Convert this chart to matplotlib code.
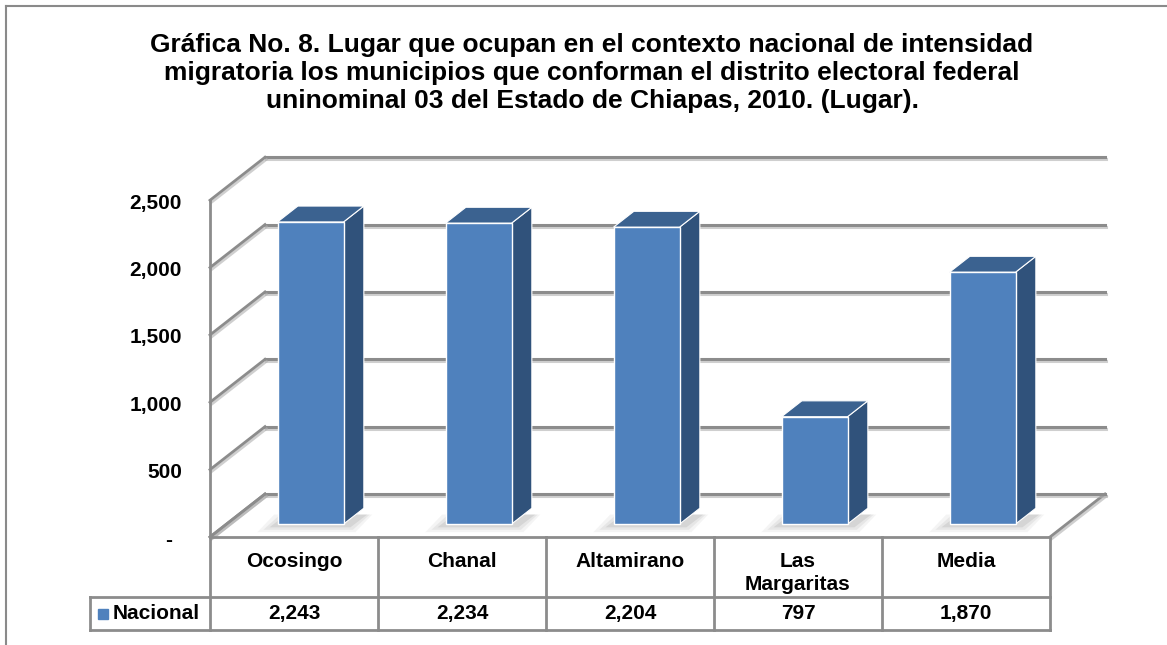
import matplotlib
matplotlib.use("Agg")
import matplotlib.pyplot as plt
from matplotlib.patches import Polygon
from matplotlib.transforms import ScaledTranslation
import matplotlib.patheffects as pe

plt.rcParams['font.family'] = ['Liberation Sans', 'DejaVu Sans']

# data
categories = ["Ocosingo", "Chanal", "Altamirano", "Las\nMargaritas", "Media"]
values = [2243, 2234, 2204, 797, 1870]
series_name = "Nacional"
yticks = [0, 500, 1000, 1500, 2000, 2500]
ytick_labels = ["-", "500", "1,000", "1,500", "2,000", "2,500"]
title = ("Gráfica No. 8. Lugar que ocupan en el contexto nacional de intensidad\n"
         "migratoria los municipios que conforman el distrito electoral federal\n"
         "uninominal 03 del Estado de Chiapas, 2010. (Lugar).")

W, H = 1167, 645
fig = plt.figure(figsize=(W / 100, H / 100), dpi=100)
fig.patch.set_facecolor('white')

BLUE = '#4F81BD'
SIDE = '#30527B'
TOP = '#3B6290'
GRID = '#8C8C8C'
FS = 15

# outer frame (only top and left edges visible)
fig.add_artist(plt.Line2D([6 / W, 6 / W], [0, 1 - 6 / H], color='#8a8a8a', lw=1.5))
fig.add_artist(plt.Line2D([6 / W, 1], [1 - 6 / H, 1 - 6 / H], color='#8a8a8a', lw=1.5))

fig.text(592 / W, 1 - 73 / H, title, ha='center', va='center', fontsize=19,
         fontweight='bold', linespacing=1.2)

# front plane of the 3d box: x -0.5..4.5 -> 210..1050 px, y 0..2500 -> 537..200 px
x0, x1 = 210, 1050
y0 = 537
ppu = 336.75 / 2500
ax = fig.add_axes([x0 / W, 1 - y0 / H, (x1 - x0) / W, 2500 * ppu / H])
ax.set_xlim(-0.5, 4.5)
ax.set_ylim(0, 2500)
ax.axis('off')

ppc = (x1 - x0) / 5.0
DX = 55 / ppc          # depth of the box in category units
DY = 43 / ppu          # depth of the box in value units

shadow = [pe.SimpleLineShadow(offset=(1, -1.5), shadow_color='#b0b0b0', alpha=0.6), pe.Normal()]

# floor
floor = Polygon([(-0.5, 0), (4.5, 0), (4.5 + DX, DY), (-0.5 + DX, DY)], closed=True,
                facecolor='white', edgecolor='none', clip_on=False, zorder=1)
ax.add_patch(floor)
ax.plot([4.5, 4.5 + DX], [0, DY], color=GRID, lw=2, clip_on=False, zorder=2,
        path_effects=shadow)
ax.plot([-0.5, -0.5 + DX], [0, DY], color=GRID, lw=2, clip_on=False, zorder=2,
        path_effects=shadow)

# back wall gridlines and left wall
for t in yticks:
    ax.plot([-0.5 + DX, 4.5 + DX], [t + DY, t + DY], color=GRID, lw=2.2,
            clip_on=False, zorder=2, path_effects=shadow)
    ax.plot([-0.5, -0.5 + DX], [t, t + DY], color=GRID, lw=2, clip_on=False,
            zorder=2, path_effects=shadow)
ax.plot([-0.5, -0.5], [0, 2500], color=GRID, lw=2, clip_on=False, zorder=2)

# tick labels on the front-left edge
for t, lab in zip(yticks, ytick_labels):
    off = -38 if lab == "-" else -28
    tr = ax.transData + ScaledTranslation(off / 100, -3 / 100, fig.dpi_scale_trans)
    ax.text(-0.5, t, lab, transform=tr, ha='right', va='center', fontsize=FS,
            fontweight='bold', clip_on=False)

# bars (3d look)
d0 = 0.3
dd = 0.37
bw = 66 / ppc
xs = [i + d0 * DX for i in range(len(values))]
base = d0 * DY

# soft shadows on the floor
for i, x in enumerate(xs):
    for k, a in zip([1.0, 0.7, 0.4], [0.07, 0.10, 0.14]):
        sx0 = x - bw / 2 - 0.12 * k
        sx1 = x + bw / 2 + dd * DX + 0.05 * k
        ax.add_patch(Polygon([(sx0, base - 60 * k), (sx1 - 0.1, base - 60 * k),
                              (sx1, base + dd * DY * 0.6), (sx0 + 0.1, base + dd * DY * 0.6)],
                             closed=True, facecolor='#707070', edgecolor='none',
                             alpha=a, clip_on=False, zorder=3))

bars = ax.bar(xs, values, width=bw, bottom=base, color=BLUE, edgecolor='white',
              linewidth=1, zorder=6)
for b in bars:
    b.set_clip_on(False)
for x, v in zip(xs, values):
    xl, xr = x - bw / 2, x + bw / 2
    side = Polygon([(xr, base), (xr, base + v), (xr + dd * DX, base + v + dd * DY),
                    (xr + dd * DX, base + dd * DY)], closed=True, facecolor=SIDE,
                   edgecolor='white', lw=0.8, clip_on=False, zorder=5)
    top = Polygon([(xl, base + v), (xr, base + v), (xr + dd * DX, base + v + dd * DY),
                   (xl + dd * DX, base + v + dd * DY)], closed=True, facecolor=TOP,
                  edgecolor='white', lw=0.8, clip_on=False, zorder=5)
    ax.add_patch(side)
    ax.add_patch(top)

# data table
ty1, ty2 = 597, 630
axt = fig.add_axes([x0 / W, 1 - ty2 / H, (x1 - x0) / W, (ty2 - y0) / H])
axt.set_xlim(-0.5, 4.5)
axt.set_ylim(ty2 - y0, 0)
axt.axis('off')
r1 = ty1 - y0
r2 = ty2 - y0
xlab = -0.5 - 120 / ppc
lkw = dict(color=GRID, lw=2, clip_on=False, solid_capstyle='projecting')
axt.plot([-0.5, 4.5], [0, 0], **lkw)
axt.plot([xlab, 4.5], [r1, r1], **lkw)
axt.plot([xlab, 4.5], [r2, r2], **lkw)
axt.plot([xlab, xlab], [r1, r2], **lkw)
for k in range(len(values) + 1):
    axt.plot([k - 0.5, k - 0.5], [0, r2], **lkw)

for i, (c, v) in enumerate(zip(categories, values)):
    axt.text(i, 15, c, ha='center', va='top', fontsize=FS, fontweight='bold',
             linespacing=1.3, clip_on=False)
    axt.text(i, (r1 + r2) / 2, f"{v:,}", ha='center', va='center', fontsize=FS,
             fontweight='bold', clip_on=False)

axt.plot([-0.5 - 107.5 / ppc], [(r1 + r2) / 2], marker='s', markersize=6.5,
         color=BLUE, clip_on=False)
axt.text(-0.5 - 97 / ppc, (r1 + r2) / 2, series_name, ha='left', va='center',
         fontsize=FS, fontweight='bold', clip_on=False)

fig.savefig('out.png', dpi=100)
